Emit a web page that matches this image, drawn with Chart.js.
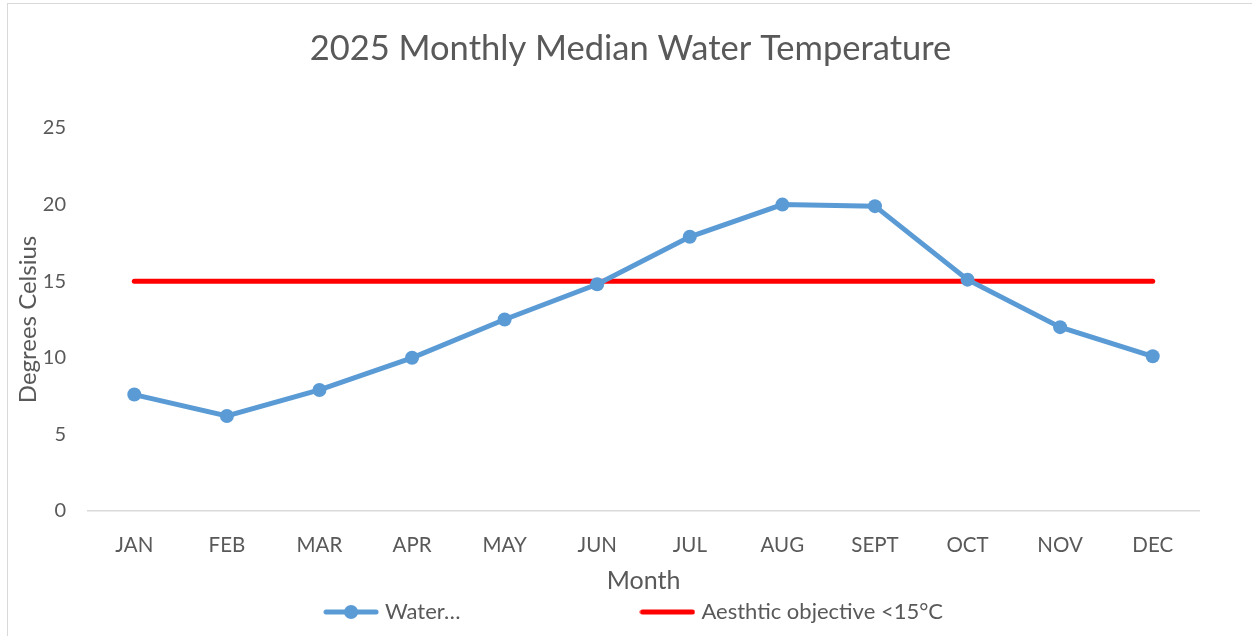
<!DOCTYPE html>
<html>
<head>
<meta charset="utf-8">
<script src="https://cdn.jsdelivr.net/npm/chart.js@4"></script>
<style>
  html, body { margin: 0; padding: 0; background: #fff; }
  #wrap { position: relative; width: 1252px; height: 636px; box-sizing: border-box; }
  #frame { position: absolute; left: 7px; top: 3px; right: -2px; bottom: -2px; border: 1px solid #d9d9d9; pointer-events: none; }
</style>
</head>
<body>
<div id="wrap">
  <canvas id="chart" width="1252" height="636"></canvas>
  <div id="frame"></div>
</div>
<script>
const months = ["JAN", "FEB", "MAR", "APR", "MAY", "JUN", "JUL", "AUG", "SEPT", "OCT", "NOV", "DEC"];
const waterTemp = [7.6, 6.2, 7.9, 10.0, 12.5, 14.8, 17.9, 20.0, 19.9, 15.1, 12.0, 10.1];
const objective = [15, 15, 15, 15, 15, 15, 15, 15, 15, 15, 15, 15];
const yTicks = [0, 5, 10, 15, 20, 25];

const textColor = "#595959";
const fontFamily = "Lato, 'Open Sans', sans-serif";

// legend samples: line with a dot, plain line
function sample(color, dot) {
  const c = document.createElement("canvas");
  c.width = 56;
  c.height = 16;
  const g = c.getContext("2d");
  g.strokeStyle = color;
  g.lineWidth = 5;
  g.lineCap = "round";
  g.beginPath();
  g.moveTo(3, 8);
  g.lineTo(53, 8);
  g.stroke();
  if (dot) {
    g.fillStyle = color;
    g.beginPath();
    g.arc(28, 8, 7, 0, Math.PI * 2);
    g.fill();
  }
  return c;
}

// title and legend sit a bit right of the plot centre in the original
const boxShift = {
  id: "boxShift",
  afterLayout(chart) {
    chart.legend.left += 32;
    chart.legend.right += 32;
    chart.titleBlock.left += 27;
    chart.titleBlock.right += 27;
  },
};

new Chart(document.getElementById("chart"), {
  type: "line",
  data: {
    labels: months,
    datasets: [
      {
        label: "Water…",
        data: waterTemp,
        borderColor: "#5B9BD5",
        backgroundColor: "#5B9BD5",
        borderWidth: 5,
        pointRadius: 7,
        pointBorderWidth: 0,
        pointBackgroundColor: "#5B9BD5",
        tension: 0,
      },
      {
        label: "Aesthtic objective <15°C",
        data: objective,
        borderColor: "#FF0000",
        backgroundColor: "#FF0000",
        borderWidth: 5,
        borderCapStyle: "round",
        pointRadius: 0,
        tension: 0,
      },
    ],
  },
  plugins: [boxShift],
  options: {
    responsive: false,
    animation: false,
    layout: { padding: { left: 8, right: 53, top: 0, bottom: 3 } },
    plugins: {
      title: {
        display: true,
        text: "2025 Monthly Median Water Temperature",
        color: textColor,
        font: { family: fontFamily, size: 34.5, weight: "normal", lineHeight: 1.2 },
        padding: { top: 28, bottom: 58.6 },
      },
      legend: {
        position: "bottom",
        labels: {
          color: textColor,
          font: { family: fontFamily, size: 22 },
          padding: 8,
          usePointStyle: true,
          pointStyleWidth: 46,
          generateLabels: () => [
            { text: "Water…" + "\u2002".repeat(16), pointStyle: sample("#5B9BD5", true), fontColor: textColor, datasetIndex: 0, lineWidth: 0, strokeStyle: "transparent", fillStyle: "transparent" },
            { text: "Aesthtic objective <15°C", pointStyle: sample("#FF0000", false), fontColor: textColor, datasetIndex: 1, lineWidth: 0, strokeStyle: "transparent", fillStyle: "transparent" },
          ],
        },
      },
      tooltip: { enabled: false },
    },
    scales: {
      x: {
        offset: true,
        grid: { display: false, drawTicks: false, offset: true },
        border: { display: true, color: "#d9d9d9", width: 1.5 },
        ticks: { color: textColor, font: { family: fontFamily, size: 20.5 }, padding: 22, maxRotation: 0 },
        title: {
          display: true,
          text: "Month",
          color: textColor,
          font: { family: fontFamily, size: 25, lineHeight: 1 },
          padding: 0,
        },
        afterFit: (s) => { s.height = 82; },
      },
      y: {
        min: 0,
        max: 25,
        afterBuildTicks: (s) => { s.ticks = yTicks.map((v) => ({ value: v })); },
        grid: { display: false, drawTicks: false },
        border: { display: false },
        ticks: { color: textColor, font: { family: fontFamily, size: 20 }, padding: 22 },
        title: {
          display: true,
          text: "Degrees Celsius",
          color: textColor,
          font: { family: fontFamily, size: 24, lineHeight: 1.2 },
          padding: { top: 5.5, bottom: 0 },
        },
        afterFit: (s) => { s.width = 80; },
      },
    },
  },
});
</script>
</body>
</html>
